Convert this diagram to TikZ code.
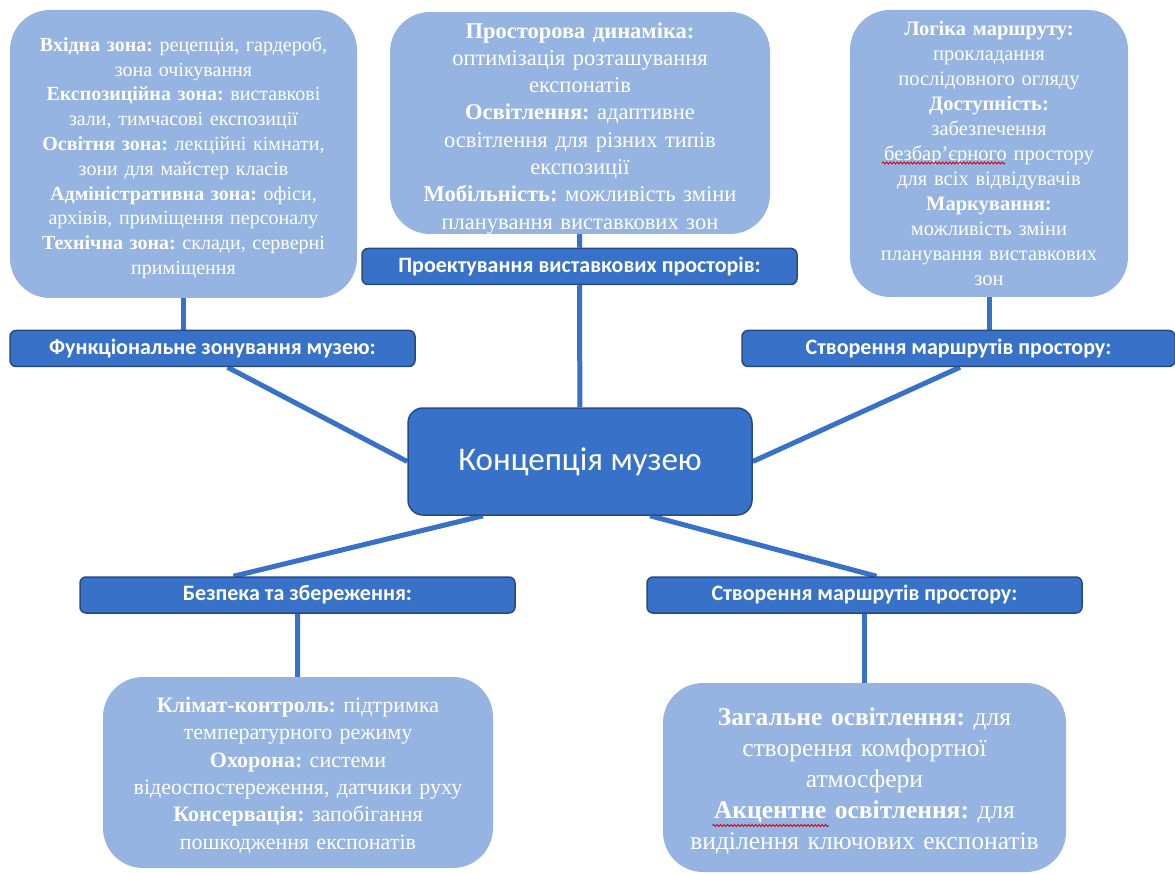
\documentclass[tikz,border=0pt]{standalone}
\usepackage{fontspec}
\setmainfont{Liberation Serif}
\newfontfamily\calibri{Carlito}
\usetikzlibrary{backgrounds,decorations.pathmorphing}
\definecolor{lblblue}{RGB}{56,114,200}
\definecolor{lbldark}{RGB}{40,74,130}
\definecolor{paleblue}{RGB}{150,180,226}
\frenchspacing
\begin{document}
\begin{tikzpicture}[x=1pt,y=-1pt,
    pale/.style={fill=paleblue,rounded corners=40pt,text=white,align=center,inner sep=0pt},
    lbl/.style={fill=lblblue,draw=lbldark,line width=1.5pt,rounded corners=6pt,text=white,
      font=\calibri\bfseries\fontsize{22}{24}\selectfont,inner sep=0pt,minimum height=36pt},
    link/.style={draw=lblblue,line width=5pt},
    spell/.style={draw=red!85!black,line width=0.9pt,decorate,
      decoration={snake,amplitude=1pt,segment length=3.5pt}}]
      \useasboundingbox (0,0) rectangle (1175,874);
      % upper boxes
      \node[pale,minimum width=347pt,minimum height=288pt,text width=337pt,
        font=\fontsize{20}{24.8}\selectfont] (zone) at (183.5,154) {%
        \rule{0pt}{22pt}\textbf{Вхідна зона:} рецепція, гардероб,\\ зона очікування\\
        \textbf{Експозиційна зона:} виставкові\\ зали, тимчасові експозиції\\
        \textbf{Освітня зона:} лекційні кімнати,\\ зони для майстер класів\\
        \textbf{Адміністративна зона:} офіси,\\ архівів, приміщення персоналу\\
        \textbf{Технічна зона:} склади, серверні\\ приміщення};
      \node[pale,minimum width=380pt,minimum height=220pt,text width=370pt,
        font=\fontsize{22.5}{27.3}\selectfont] (design) at (580,123) {%
        \rule{0pt}{26pt}\textbf{Просторова динаміка:}\\ оптимізація розташування\\ експонатів\\
        \textbf{Освітлення:} адаптивне\\ освітлення для різних типів\\ експозиції\\
        \textbf{Мобільність:} можливість зміни\\ планування виставкових зон};
      \node[pale,minimum width=278pt,minimum height=287pt,text width=270pt,
        font=\fontsize{20.5}{25}\selectfont] (route) at (989,153.5) {%
        \textbf{Логіка маршруту:}\\ прокладання\\ послідовного огляду\\
        \textbf{Доступність:}\\ забезпечення\\ безбар’єрного простору\\
        для всіх відвідувачів\\ \textbf{Маркування:}\\ можливість зміни\\
        планування виставкових\\ зон};
      % labels
      \node[lbl,minimum width=405pt] (zonelbl) at (212.5,348.5) {Функціональне зонування музею:};
      \node[lbl,minimum width=435pt] (designlbl) at (579.5,266.5) {Проектування виставкових просторів:};
      \node[lbl,minimum width=433pt] (routelbl) at (958.5,348.5) {Створення маршрутів простору:};
      \node[lbl,minimum width=435pt] (safelbl) at (297.5,595) {Безпека та збереження:};
      \node[lbl,minimum width=435pt] (lightlbl) at (864.5,595) {Створення маршрутів простору:};
      % centre
      \node[fill=lblblue,draw=lbldark,line width=1.5pt,rounded corners=15pt,text=white,
        minimum width=344pt,minimum height=107pt,font=\calibri\fontsize{33}{36}\selectfont]
        (concept) at (580,461.5) {Концепція музею};
      % lower boxes
      \node[pale,minimum width=390pt,minimum height=191pt,text width=380pt,
        font=\fontsize{22}{27.3}\selectfont] (safe) at (298,772.5) {%
        \rule{0pt}{21pt}\textbf{Клімат-контроль:} підтримка\\ температурного режиму\\
        \textbf{Охорона:} системи\\ відеоспостереження, датчики руху\\
        \textbf{Консервація:} запобігання\\ пошкодження експонатів};
      \node[pale,minimum width=403pt,minimum height=189pt,text width=395pt,
        font=\fontsize{25.5}{31}\selectfont] (light) at (864.5,777.5) {%
        \rule{0pt}{24pt}\textbf{Загальне освітлення:} для\\ створення комфортної\\ атмосфери\\
        \textbf{Акцентне освітлення:} для\\ виділення ключових експонатів};
      % spell-check marks
      \draw[spell] ([shift={(-107,9.5)}]route.center) -- ([shift={(16,9.5)}]route.center);
      \draw[spell] ([shift={(-152,48)}]light.center) -- ([shift={(-36,48)}]light.center);
      \begin{pgfonlayer}{background}
        \draw[link] (zone.south) -- (zone.south |- zonelbl.north);
        \draw[link] (design) -- (designlbl);
        \draw[link] (designlbl) -- (concept);
        \draw[link] (route.south) -- (route.south |- routelbl.north);
        \draw[link] ([xshift=15pt]zonelbl.south) -- (concept.west);
        \draw[link] ([xshift=1.5pt]routelbl.south) -- (concept.east);
        \draw[link] ([xshift=-97pt]concept.south) -- ([xshift=-64pt]safelbl.north);
        \draw[link] ([xshift=70pt]concept.south) -- ([xshift=12pt]lightlbl.north);
        \draw[link] (safelbl) -- (safe);
        \draw[link] (lightlbl) -- (light);
      \end{pgfonlayer}
    \end{tikzpicture}
\end{document}
